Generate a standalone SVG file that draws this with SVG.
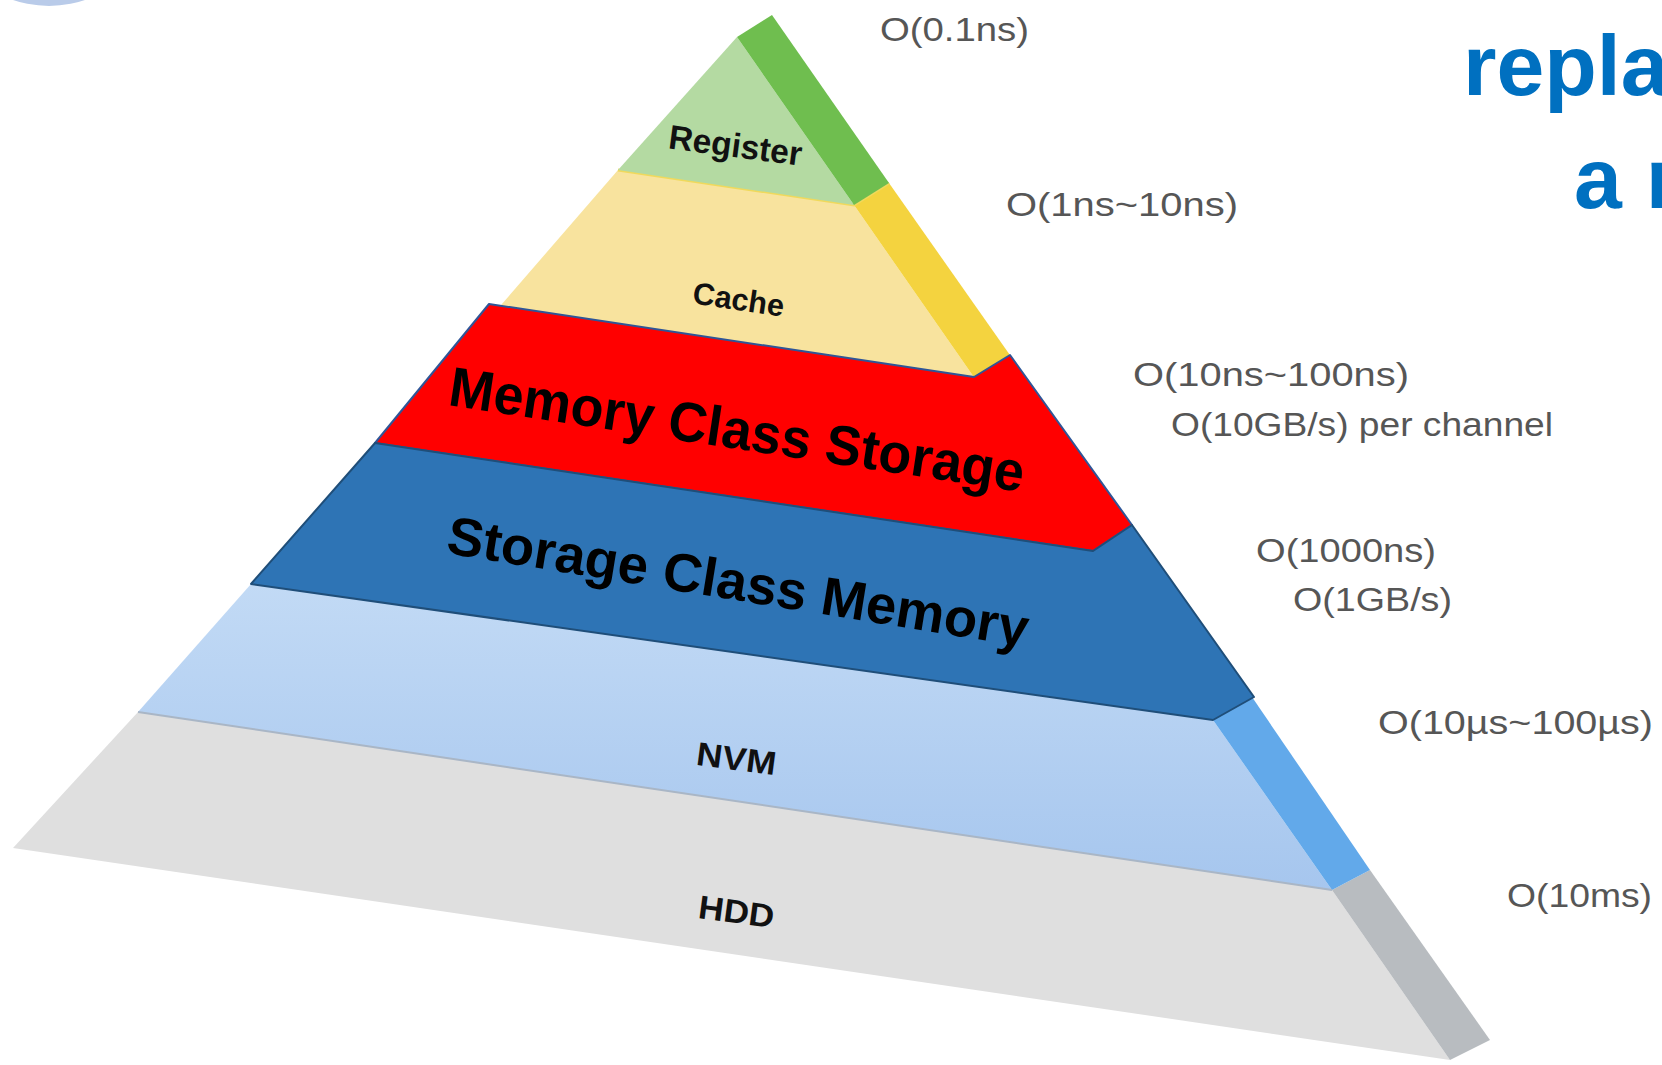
<svg xmlns="http://www.w3.org/2000/svg" width="1662" height="1065" viewBox="0 0 1662 1065">
<defs>
<linearGradient id="nvmGrad" x1="0" y1="0" x2="0" y2="1">
<stop offset="0" stop-color="#c2daf5"/>
<stop offset="1" stop-color="#a6c6ee"/>
</linearGradient>
<style>
.lbl{font-family:"Liberation Sans",Arial,sans-serif;font-weight:bold;fill:#111;}
.big{font-family:"Liberation Sans",Arial,sans-serif;font-weight:bold;fill:#000;}
.lat{font-family:"Liberation Sans",Arial,sans-serif;font-size:33px;fill:#565656;}
.title{font-family:"Liberation Sans",Arial,sans-serif;font-weight:bold;font-size:86px;fill:#0070c0;}
</style>
</defs>
<rect width="1662" height="1065" fill="#ffffff"/>
<circle cx="49" cy="-105" r="111" fill="#b9cbe9"/>

<g id="hdd">
<polygon points="138,712 1332,890 1450,1060 13,848" fill="#dfdfdf"/>
<polygon points="1332,890 1370,870 1490,1040 1450,1060" fill="#b8bcc0"/>
<text class="lbl" font-size="33" text-anchor="middle" textLength="76" lengthAdjust="spacingAndGlyphs" transform="translate(735,923) rotate(7.5)">HDD</text>
</g>

<g id="nvm">
<polygon points="251,584 1213,720 1332,890 138,712" fill="url(#nvmGrad)"/>
<polygon points="1213,720 1252,697 1370,870 1332,890" fill="#62a9ea"/>
<line x1="138" y1="712" x2="1332" y2="890" stroke="#a9b6c6" stroke-width="2"/>
<text class="lbl" font-size="33" text-anchor="middle" textLength="80" lengthAdjust="spacingAndGlyphs" transform="translate(735,770) rotate(7.5)">NVM</text>
</g>

<g id="cache">
<polygon points="618,170 854,205 978,383 495,312" fill="#f8e39e"/>
<polygon points="854,205 889,183 1012,358 978,383" fill="#f4d33f"/>
<polyline points="618,170 854,205 889,183" fill="none" stroke="#f0d95c" stroke-width="3"/>
<text class="lbl" font-size="31" text-anchor="middle" textLength="92" lengthAdjust="spacingAndGlyphs" transform="translate(737,310) rotate(8.5)">Cache</text>
</g>

<g id="register">
<polygon points="737,37 854,205 618,170" fill="#b4daa2"/>
<polygon points="737,37 772,15 889,183 854,205" fill="#6fbe4f"/>
<text class="lbl" font-size="34" text-anchor="middle" textLength="134" lengthAdjust="spacingAndGlyphs" transform="translate(734,157) rotate(7.5)">Register</text>
</g>

<g id="mcs">
<polygon points="489,304 974,377 1010,355 1132,525 1093,551 375,443" fill="#ff0000" stroke="#2f5597" stroke-width="2" stroke-linejoin="round"/>
<text class="big" font-size="56" textLength="581" lengthAdjust="spacingAndGlyphs" transform="translate(447,405) rotate(8.6)">Memory Class Storage</text>
</g>

<g id="scm">
<polygon points="375,443 1093,551 1132,525 1254,697 1213,720 251,584" fill="#2e74b5" stroke="#1f4e79" stroke-width="2" stroke-linejoin="round"/>
<text class="big" font-size="54" textLength="588" lengthAdjust="spacingAndGlyphs" transform="translate(445,553) rotate(9.2)">Storage Class Memory</text>
</g>

<g id="latencies">
<text class="lat" x="880" y="41" textLength="149" lengthAdjust="spacingAndGlyphs">O(0.1ns)</text>
<text class="lat" x="1006" y="216" textLength="232" lengthAdjust="spacingAndGlyphs">O(1ns~10ns)</text>
<text class="lat" x="1133" y="386" textLength="276" lengthAdjust="spacingAndGlyphs">O(10ns~100ns)</text>
<text class="lat" x="1171" y="436" textLength="382" lengthAdjust="spacingAndGlyphs">O(10GB/s) per channel</text>
<text class="lat" x="1256" y="562" textLength="180" lengthAdjust="spacingAndGlyphs">O(1000ns)</text>
<text class="lat" x="1293" y="611" textLength="159" lengthAdjust="spacingAndGlyphs">O(1GB/s)</text>
<text class="lat" x="1378" y="734" textLength="275" lengthAdjust="spacingAndGlyphs">O(10µs~100µs)</text>
<text class="lat" x="1507" y="907" textLength="145" lengthAdjust="spacingAndGlyphs">O(10ms)</text>
</g>

<g id="title">
<text class="title" x="1463" y="95">repla</text>
<text class="title" x="1574" y="208">a r</text>
</g>
</svg>
